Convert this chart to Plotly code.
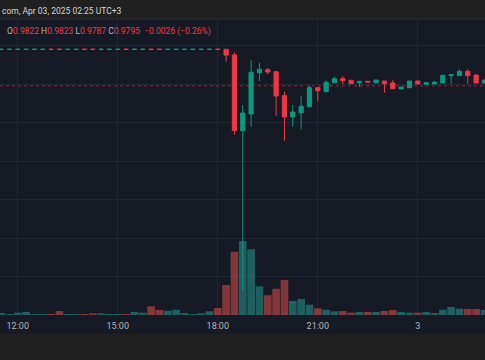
import pandas as pd
import plotly.graph_objects as go

# ---- data (15-minute candles, Apr 2 2025 11:30 -> Apr 3 2025 02:00, UTC+3) ----
start_time = "2025-04-02 11:30"
open_ = [
    0.98900, 0.98900, 0.98900, 0.98900, 0.98900, 0.98900, 0.98901, 0.98901, 0.98900, 0.98900,
    0.98901, 0.98901, 0.98900, 0.98900, 0.98900, 0.98901, 0.98900, 0.98900, 0.98901, 0.98901,
    0.98900, 0.98900, 0.98900, 0.98900, 0.98900, 0.98900, 0.98901,
    0.98901, 0.98755, 0.96787, 0.97221, 0.98294, 0.98371, 0.98319, 0.97696, 0.97143, 0.97247,
    0.97410, 0.97904, 0.97800, 0.98034, 0.98138, 0.98096, 0.98034, 0.98070, 0.98034, 0.98078,
    0.98026, 0.97870, 0.97904, 0.98078, 0.97992, 0.98000, 0.98026, 0.98216, 0.98216, 0.98330,
    0.98234, 0.98026,
]
high = [
    0.98901, 0.98901, 0.98901, 0.98901, 0.98901, 0.98901, 0.98901, 0.98901, 0.98901, 0.98901,
    0.98901, 0.98901, 0.98901, 0.98901, 0.98901, 0.98901, 0.98901, 0.98901, 0.98901, 0.98901,
    0.98901, 0.98901, 0.98901, 0.98901, 0.98901, 0.98901, 0.98901,
    0.98901, 0.98823, 0.97455, 0.98623, 0.98553, 0.98416, 0.98319, 0.97800, 0.97455, 0.97696,
    0.97956, 0.97904, 0.98096, 0.98190, 0.98208, 0.98096, 0.98070, 0.98078, 0.98104, 0.98078,
    0.98104, 0.97922, 0.98078, 0.98078, 0.98034, 0.98078, 0.98226, 0.98242, 0.98390, 0.98390,
    0.98234, 0.98104,
]
low = [
    0.98900, 0.98900, 0.98900, 0.98900, 0.98900, 0.98900, 0.98900, 0.98900, 0.98900, 0.98900,
    0.98900, 0.98900, 0.98900, 0.98900, 0.98900, 0.98900, 0.98900, 0.98900, 0.98900, 0.98900,
    0.98900, 0.98900, 0.98900, 0.98900, 0.98900, 0.98900, 0.98900,
    0.98579, 0.96683, 0.92649, 0.96891, 0.98078, 0.98252, 0.97169, 0.96527, 0.96891, 0.96823,
    0.97410, 0.97551, 0.97800, 0.98034, 0.97992, 0.98008, 0.97922, 0.98052, 0.98034, 0.97774,
    0.97878, 0.97870, 0.97904, 0.98000, 0.97992, 0.98000, 0.98026, 0.98008, 0.98216, 0.98008,
    0.98026, 0.98026,
]
close = [
    0.98901, 0.98901, 0.98901, 0.98901, 0.98901, 0.98901, 0.98900, 0.98900, 0.98901, 0.98901,
    0.98900, 0.98900, 0.98901, 0.98901, 0.98901, 0.98900, 0.98901, 0.98901, 0.98900, 0.98900,
    0.98901, 0.98901, 0.98901, 0.98901, 0.98901, 0.98901, 0.98900,
    0.98753, 0.96787, 0.97247, 0.98304, 0.98382, 0.98312, 0.97688, 0.97143, 0.97273, 0.97421,
    0.97904, 0.97826, 0.98044, 0.98138, 0.98086, 0.98008, 0.98070, 0.98052, 0.98104, 0.98008,
    0.97878, 0.97922, 0.98078, 0.98000, 0.98034, 0.98044, 0.98226, 0.98242, 0.98330, 0.98216,
    0.98026, 0.98104,
]
volume = [  # thousands
    2.0, 1.0, 2.3, 3.0, 1.0, 1.0, 1.0, 4.0, 1.0, 1.0,
    1.0, 1.7, 1.7, 1.0, 1.0, 1.0, 3.0, 2.3, 8.7, 5.0,
    4.3, 5.3, 2.0, 1.0, 1.7, 3.7, 7.0,
    30.0, 63.3, 74.0, 65.7, 28.7, 19.7, 26.3, 35.0, 14.0, 16.0,
    10.3, 6.7, 5.3, 3.7, 4.0, 2.3, 3.0, 3.0, 3.0, 4.0,
    5.0, 3.0, 2.3, 2.3, 3.0, 2.0, 5.3, 8.0, 6.3, 6.0,
    6.0, 5.0,
]
tick_times = ["2025-04-02 12:00", "2025-04-02 15:00", "2025-04-02 18:00",
              "2025-04-02 21:00", "2025-04-03 00:00"]
tick_labels = ["12:00", "15:00", "18:00", "21:00", "3"]
price_grid = [0.92, 0.93, 0.94, 0.95, 0.96, 0.97, 0.98, 0.99]
last_close = 0.9795
header_text = "com, Apr 03, 2025 02:25 UTC+3"
legend_vals = {"O": "0.9822", "H": "0.9823", "L": "0.9787", "C": "0.9795"}
legend_change = "\u22120.0026 (\u22120.26%)"

times = pd.date_range(start_time, periods=len(close), freq="15min")

UP = "#089981"
DOWN = "#f23645"
VUP = "rgba(38,166,154,0.5)"
VDOWN = "rgba(239,83,80,0.5)"
BG = "#161a25"
GRID = "#232733"
BAND = "#202020"
FONT = "Roboto"

vol_colors = [VUP if c > o else VDOWN for o, c in zip(open_, close)]

fig = go.Figure()
fig.add_trace(go.Bar(
    x=times, y=volume, marker=dict(color=vol_colors, line=dict(width=0)),
    yaxis="y", hoverinfo="skip",
))
fig.add_trace(go.Candlestick(
    x=times, open=open_, high=high, low=low, close=close, yaxis="y2",
    increasing=dict(line=dict(color=UP, width=1), fillcolor=UP),
    decreasing=dict(line=dict(color=DOWN, width=1), fillcolor=DOWN),
    whiskerwidth=0, hoverinfo="skip",
))

H_PLOT = 296
fig.update_layout(
    width=485, height=360,
    margin=dict(l=0, r=0, t=19, b=45),
    paper_bgcolor=BG, plot_bgcolor=BG,
    showlegend=False, bargap=0.08, boxgap=0.28,
    font=dict(family=FONT, size=9, color="#b2b5be"),
    xaxis=dict(
        type="date",
        range=["2025-04-02 11:28:02", "2025-04-03 02:00:58"],
        tickvals=tick_times, ticktext=tick_labels,
        showgrid=True, gridcolor=GRID, gridwidth=1,
        zeroline=False, showline=False, ticks="",
        rangeslider=dict(visible=False),
        tickfont=dict(family=FONT, size=9, color="#b2b5be"),
        ticklabelstandoff=4,
    ),
    yaxis=dict(range=[0, H_PLOT], showgrid=False, zeroline=False,
               showticklabels=False, showline=False),
    yaxis2=dict(range=[0.92, 0.92 + H_PLOT / 3850.0], overlaying="y",
                tickvals=price_grid, showgrid=True, gridcolor=GRID,
                zeroline=False, showticklabels=False, showline=False),
    shapes=[
        dict(type="rect", xref="paper", yref="paper", x0=0, x1=1,
             y0=1, y1=1 + 19 / H_PLOT, fillcolor=BAND, line=dict(width=0), layer="above"),
        dict(type="line", xref="paper", yref="paper", x0=0, x1=1,
             y0=1, y1=1, line=dict(color="#2a2e39", width=1), layer="above"),
        dict(type="rect", xref="paper", yref="paper", x0=0, x1=1,
             y0=-45 / H_PLOT, y1=-19 / H_PLOT, fillcolor=BAND, line=dict(width=0), layer="above"),
        dict(type="line", xref="paper", yref="y2", x0=0, x1=1,
             y0=last_close, y1=last_close,
             line=dict(color="rgba(242,54,69,0.55)", width=1, dash="dot"), layer="above"),
    ],
)

legend_html = " ".join(
    f"{k}<span style='color:{DOWN}'>{v}</span>" for k, v in legend_vals.items()
) + f"  <span style='color:{DOWN}'>{legend_change}</span>"

fig.add_annotation(
    xref="paper", yref="paper", x=0.0, y=(315 - 11.5) / H_PLOT,
    xanchor="left", yanchor="middle", showarrow=False,
    text=header_text, font=dict(family=FONT, size=8.5, color="#d1d4dc"),
)
fig.add_annotation(
    xref="paper", yref="paper", x=5 / 485, y=(315 - 31) / H_PLOT,
    xanchor="left", yanchor="middle", showarrow=False,
    text=legend_html, font=dict(family=FONT, size=8.5, color="#b2b5be"),
)

fig.write_html(
    "out.html",
    config={"displayModeBar": False},
    post_script="document.body.style.margin='0';document.body.style.overflow='hidden';",
)
